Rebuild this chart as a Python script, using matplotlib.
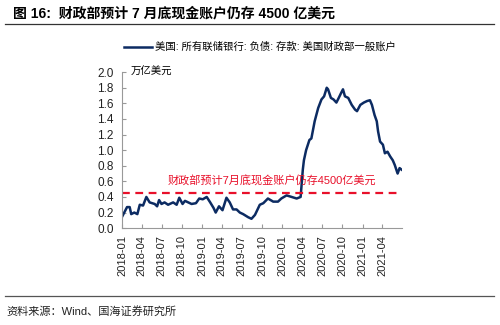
import pandas as pd
import matplotlib
matplotlib.use("Agg")
import matplotlib.pyplot as plt
import matplotlib.dates as mdates
from matplotlib.lines import Line2D

plt.rcParams['font.family'] = ['Liberation Sans', 'Noto Sans CJK SC', 'DejaVu Sans']

# TGA balance (trillion USD)
dates = [
    "2018-01-03", "2018-01-24", "2018-02-05", "2018-02-12", "2018-02-26", "2018-03-12",
    "2018-03-23", "2018-04-07", "2018-04-22", "2018-05-07", "2018-05-30", "2018-06-10",
    "2018-06-19", "2018-06-30", "2018-07-14", "2018-07-30", "2018-08-22", "2018-09-07",
    "2018-09-19", "2018-10-04", "2018-10-15", "2018-10-30", "2018-11-14", "2018-12-04",
    "2018-12-19", "2019-01-04", "2019-01-22", "2019-02-07", "2019-02-22", "2019-03-04",
    "2019-03-19", "2019-04-04", "2019-04-22", "2019-05-07", "2019-05-22", "2019-06-07",
    "2019-06-22", "2019-07-07", "2019-07-30", "2019-08-14", "2019-08-30", "2019-09-21",
    "2019-10-07", "2019-10-28", "2019-11-21", "2019-12-13", "2019-12-28", "2020-01-21",
    "2020-02-13", "2020-03-07", "2020-03-25", "2020-04-04", "2020-04-09", "2020-04-19",
    "2020-05-04", "2020-05-13", "2020-05-28", "2020-06-13", "2020-06-28", "2020-07-10",
    "2020-07-22", "2020-07-28", "2020-08-10", "2020-08-22", "2020-09-04", "2020-09-13",
    "2020-09-25", "2020-10-04", "2020-10-13", "2020-10-28", "2020-11-13", "2020-11-28",
    "2020-12-07", "2020-12-22", "2021-01-07", "2021-01-22", "2021-02-04", "2021-02-13",
    "2021-02-25", "2021-03-07", "2021-03-13", "2021-03-22", "2021-04-04", "2021-04-13",
    "2021-04-25", "2021-05-07", "2021-05-19", "2021-05-28", "2021-06-10", "2021-06-19",
    "2021-06-28",
]
tga = [
    0.155, 0.27, 0.27, 0.18, 0.20, 0.18,
    0.30, 0.29, 0.40, 0.33, 0.31, 0.28,
    0.36, 0.31, 0.33, 0.30, 0.33, 0.30,
    0.39, 0.31, 0.35, 0.33, 0.31, 0.32,
    0.38, 0.37, 0.40, 0.33, 0.26, 0.20,
    0.28, 0.23, 0.39, 0.33, 0.24, 0.24,
    0.20, 0.18, 0.14, 0.12, 0.17, 0.30,
    0.32, 0.38, 0.34, 0.34, 0.38, 0.42,
    0.40, 0.38, 0.40, 0.75, 0.87, 1.00,
    1.13, 1.15, 1.37, 1.54, 1.65, 1.69,
    1.80, 1.78, 1.67, 1.65, 1.61, 1.66,
    1.73, 1.78, 1.69, 1.67, 1.58, 1.52,
    1.50, 1.58, 1.61, 1.63, 1.64, 1.58,
    1.45, 1.37, 1.24, 1.11, 1.07, 0.96,
    0.98, 0.92, 0.87, 0.81, 0.70, 0.77,
    0.75,
]
target = 0.45  # 4500亿美元

title = "图 16:  财政部预计 7 月底现金账户仍存 4500 亿美元"
series_name = "美国: 所有联储银行: 负债: 存款: 美国财政部一般账户"
note = "财政部预计7月底现金账户仍存4500亿美元"
unit = "万亿美元"
source = "资料来源：Wind、国海证券研究所"

x = pd.to_datetime(dates)
navy = "#0c2b62"

fig = plt.figure(figsize=(5, 3.25), dpi=100)
ax = fig.add_axes([0.244, 0.298, 0.56, 0.48])

ln, = ax.plot(x, tga, color=navy, lw=1.8, label=series_name)
ax.axhline(target, color="#e8102a", lw=1.6, ls=(0, (3.5, 2.5)))
ax.text(pd.Timestamp("2019-11-15"), 0.6, note, color="#e8102a",
        fontsize=8, ha="center", va="center")
ax.text(pd.Timestamp("2018-02-10"), 2.0, unit, fontsize=7.5, va="center", ha="left")

ax.set_ylim(0, 2.0)
ax.set_yticks([i / 10 for i in range(0, 21, 2)])
ax.yaxis.set_major_formatter(plt.FuncFormatter(lambda v, p: f"{v:.1f}"))
ax.set_xlim(pd.Timestamp("2018-01-01"), pd.Timestamp("2021-06-30"))
ax.xaxis.set_major_locator(mdates.MonthLocator(bymonth=[1, 4, 7, 10]))
ax.xaxis.set_major_formatter(mdates.DateFormatter("%Y-%m"))
plt.setp(ax.get_xticklabels(), rotation=90)

for s in ["top", "right"]:
    ax.spines[s].set_visible(False)
for s in ["left", "bottom"]:
    ax.spines[s].set_color("#999999")
    ax.spines[s].set_linewidth(0.8)
ax.tick_params(direction="in", length=3, color="#999999", labelsize=8.5,
               labelcolor="#222222", pad=6)
ax.tick_params(axis="x", labelsize=8, pad=5)

fig.text(0.026, 0.957, title, fontsize=10, fontweight="bold", va="center", ha="left")
fig.add_artist(Line2D([0.01, 0.988], [0.926, 0.926], color="#333333", lw=0.9))
fig.legend(handles=[ln], loc="center", bbox_to_anchor=(0.52, 1 - 47 / 325),
           frameon=False, fontsize=7.5, handlelength=2.6, handletextpad=0.3)
fig.add_artist(Line2D([0.01, 0.988], [0.088, 0.088], color="#555555", lw=0.9))
fig.text(0.012, 0.043, source, fontsize=8, va="center", ha="left", color="#222222")

fig.savefig("out.png", dpi=100)
